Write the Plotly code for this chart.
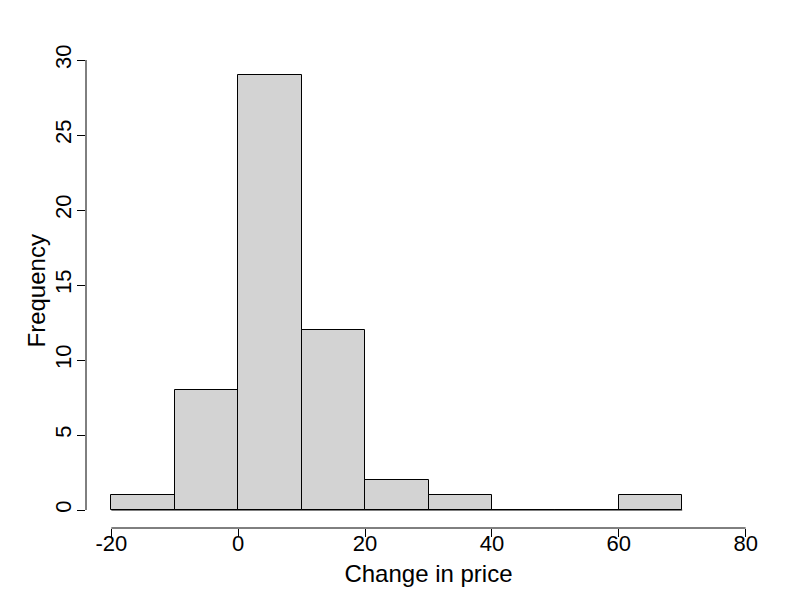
import plotly.graph_objects as go

breaks = [-20, -10, 0, 10, 20, 30, 40, 50, 60, 70]
counts = [1, 8, 29, 12, 2, 1, 0, 0, 1]
x_ticks = [-20, 0, 20, 40, 60, 80]
y_ticks = [0, 5, 10, 15, 20, 25, 30]
x_label = "Change in price"
y_label = "Frequency"

centers = [(breaks[i] + breaks[i + 1]) / 2 for i in range(len(counts))]
widths = [breaks[i + 1] - breaks[i] for i in range(len(counts))]

FONT = "Liberation Sans, Arial, sans-serif"
FS = 22
TS = 24

fig = go.Figure()
# baseline under all bins (R draws zero-height rectangles as lines)
fig.add_trace(go.Scatter(x=[breaks[0], breaks[-1]], y=[0, 0], mode="lines",
                         line=dict(color="black", width=1), showlegend=False,
                         hoverinfo="skip"))
fig.add_trace(go.Bar(x=centers, y=counts, width=widths,
                     marker=dict(color="#D3D3D3", line=dict(color="black", width=1)),
                     showlegend=False))

xr = [x_ticks[0] - 0.04 * (x_ticks[-1] - x_ticks[0]), x_ticks[-1] + 0.04 * (x_ticks[-1] - x_ticks[0])]
yr = [y_ticks[0] - 0.04 * (y_ticks[-1] - y_ticks[0]), y_ticks[-1] + 0.04 * (y_ticks[-1] - y_ticks[0])]

fig.update_layout(
    width=792, height=592,
    margin=dict(l=78, r=29, t=34, b=72),
    plot_bgcolor="white", paper_bgcolor="white",
    font=dict(family=FONT, size=FS, color="black"),
    bargap=0,
    xaxis=dict(range=xr, tickvals=x_ticks, ticktext=[str(v) for v in x_ticks],
               ticks="outside", ticklen=8, tickwidth=1, tickcolor="black",
               showline=False, showgrid=False, zeroline=False, automargin=False,
               tickfont=dict(size=FS), ticklabelstandoff=-12,
               title=dict(text=x_label, font=dict(size=TS), standoff=9)),
    yaxis=dict(range=yr, tickvals=y_ticks, ticktext=[str(v) for v in y_ticks],
               ticks="outside", ticklen=8, tickwidth=1, tickcolor="black",
               showline=False, showgrid=False, zeroline=False, automargin=False,
               tickangle=-90, tickfont=dict(size=FS), ticklabelstandoff=-3),
    annotations=[
        dict(text=y_label, xref="paper", yref="paper", x=0, y=0.5, xshift=-50.5, yshift=-6,
             xanchor="center", yanchor="middle", textangle=-90, showarrow=False,
             font=dict(size=TS)),
    ],
    shapes=[
        dict(type="line", xref="x", yref="paper", x0=x_ticks[0], x1=x_ticks[-1], y0=0, y1=0,
             line=dict(color="black", width=1)),
        dict(type="line", xref="paper", yref="y", x0=0, x1=0, y0=y_ticks[0], y1=y_ticks[-1],
             line=dict(color="black", width=1)),
    ],
)

fig.write_html("out.html")
